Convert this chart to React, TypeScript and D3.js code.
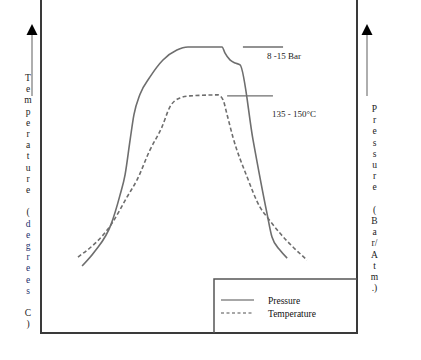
import React, { useEffect, useRef } from "react";
import * as d3 from "d3";

// time (0-100) and values (0-100)
const pressureTime = [13, 17.1, 22.2, 25, 26.6, 28.2, 29.4, 31.3, 34.5, 38.6, 43, 46.5, 57.3, 58.2, 59.8, 61.4, 63, 67.1, 71.5, 73.1, 75.6, 77.9];
const pressureValues = [20.1, 24.6, 32.7, 41.4, 47.5, 58, 65.5, 71.6, 76.9, 82, 85, 85.9, 85.9, 84.1, 82, 81.1, 80.5, 58, 36, 28.8, 24.9, 22.5];

const temperatureTime = [11.7, 22.5, 27.2, 30.4, 34.5, 38.3, 40.8, 44, 47.2, 56, 57.6, 58.9, 60.8, 65.2, 69.3, 71.8, 75.6, 84.2];
const temperatureValues = [22.8, 33, 40.8, 46, 55, 61.9, 67.9, 70.6, 71.2, 71.5, 70, 65.5, 58.6, 46.9, 37.8, 34.5, 30, 21.9];

// annotation ranges
const annotations = [
    { label: "8 -15 Bar", from: 63.9, to: 76.6, level: 85.9 },
    { label: "135 - 150°C", from: 58.9, to: 73.4, level: 71.2 },
];

const leftLabel = ["T", "e", "m", "p", "e", "r", "a", "t", "u", "r", "e", "", "(", "d", "e", "g", "r", "e", "e", "s", "", "C", ")"];
const rightLabel = ["P", "r", "e", "s", "s", "u", "r", "e", "", "(", "B", "a", "r/", "A", "t", "m", ".)"];

const legendItems = [
    { label: "Pressure", dashed: false },
    { label: "Temperature", dashed: true },
];

const App: React.FC = () => {
    const svgRef = useRef<SVGSVGElement | null>(null);

    useEffect(() => {
        const svg = d3.select(svgRef.current);
        svg.selectAll("*").remove();

        const left = 41;
        const right = 357;
        const bottom = 333;
        const x = d3.scaleLinear().domain([0, 100]).range([left, right]);
        const y = d3.scaleLinear().domain([0, 100]).range([bottom, 0]);
        const font = "'Liberation Serif', 'Times New Roman', serif";
        const curveColor = "#6e6e6e";

        // frame
        svg.append("path")
            .attr("d", `M${x(0)},${y(100)}V${y(0)}H${x(100)}V${y(100)}`)
            .attr("fill", "none")
            .attr("stroke", "#3a3a3a")
            .attr("stroke-width", 2);

        const line = d3
            .line<[number, number]>()
            .x((d) => x(d[0]))
            .y((d) => y(d[1]))
            .curve(d3.curveMonotoneX);

        const pressure = pressureTime.map((t, i) => [t, pressureValues[i]] as [number, number]);
        const temperature = temperatureTime.map((t, i) => [t, temperatureValues[i]] as [number, number]);

        svg.append("path")
            .attr("d", line(pressure))
            .attr("fill", "none")
            .attr("stroke", curveColor)
            .attr("stroke-width", 1.6);

        svg.append("path")
            .attr("d", line(temperature))
            .attr("fill", "none")
            .attr("stroke", curveColor)
            .attr("stroke-width", 1.6)
            .attr("stroke-dasharray", "4,2.5");

        // annotation lines + labels
        annotations.forEach((a, i) => {
            svg.append("line")
                .attr("x1", x(a.from))
                .attr("x2", x(a.to))
                .attr("y1", y(a.level))
                .attr("y2", y(a.level))
                .attr("stroke", "#6e6e6e")
                .attr("stroke-width", 1.4);
            svg.append("text")
                .attr("x", i === 0 ? 267 : 272)
                .attr("y", y(a.level) + (i === 0 ? 12 : 21))
                .attr("font-family", font)
                .attr("font-size", "9px")
                .attr("fill", "#222")
                .text(a.label);
        });

        // arrows
        [32, 367].forEach((ax) => {
            svg.append("line")
                .attr("x1", ax).attr("x2", ax)
                .attr("y1", 34).attr("y2", 96)
                .attr("stroke", "#9a9a9a")
                .attr("stroke-width", 1.6);
            svg.append("path")
                .attr("d", `M${ax},24L${ax + 5.5},35L${ax - 5.5},35Z`)
                .attr("fill", "#000");
        });

        // vertical axis labels, one letter per row
        const step = 11.2;
        svg.append("g")
            .selectAll("text")
            .data(leftLabel)
            .enter()
            .append("text")
            .attr("x", 28)
            .attr("y", (d, i) => 81 + i * step)
            .attr("text-anchor", "middle")
            .attr("font-family", font)
            .attr("font-size", "9.5px")
            .attr("fill", (d, i) => (i >= 13 && i <= 19 ? "#1d2f6b" : "#222"))
            .text((d) => d);

        svg.append("g")
            .selectAll("text")
            .data(rightLabel)
            .enter()
            .append("text")
            .attr("x", 374.5)
            .attr("y", (d, i) => 112 + i * step)
            .attr("text-anchor", "middle")
            .attr("font-family", font)
            .attr("font-size", "9.5px")
            .attr("fill", "#222")
            .text((d) => d);

        // legend box
        svg.append("path")
            .attr("d", `M214,${bottom}V279H${right}`)
            .attr("fill", "none")
            .attr("stroke", "#555")
            .attr("stroke-width", 1.5);

        const lg = svg.append("g");
        legendItems.forEach((item, i) => {
            const ly = 300 + i * 13;
            lg.append("line")
                .attr("x1", 221).attr("x2", 254)
                .attr("y1", ly).attr("y2", ly)
                .attr("stroke", "#8a8a8a")
                .attr("stroke-width", 1.3)
                .attr("stroke-dasharray", item.dashed ? "3,2.5" : null);
            lg.append("text")
                .attr("x", 268)
                .attr("y", ly + 3.5)
                .attr("font-family", font)
                .attr("font-size", "9.5px")
                .attr("fill", "#111")
                .text(item.label);
        });
    }, []);

    return (
        <svg
            ref={svgRef}
            width={421}
            height={360}
            style={{ position: "absolute", left: 0, top: 0, background: "#fff" }}
        />
    );
};

export default App;
